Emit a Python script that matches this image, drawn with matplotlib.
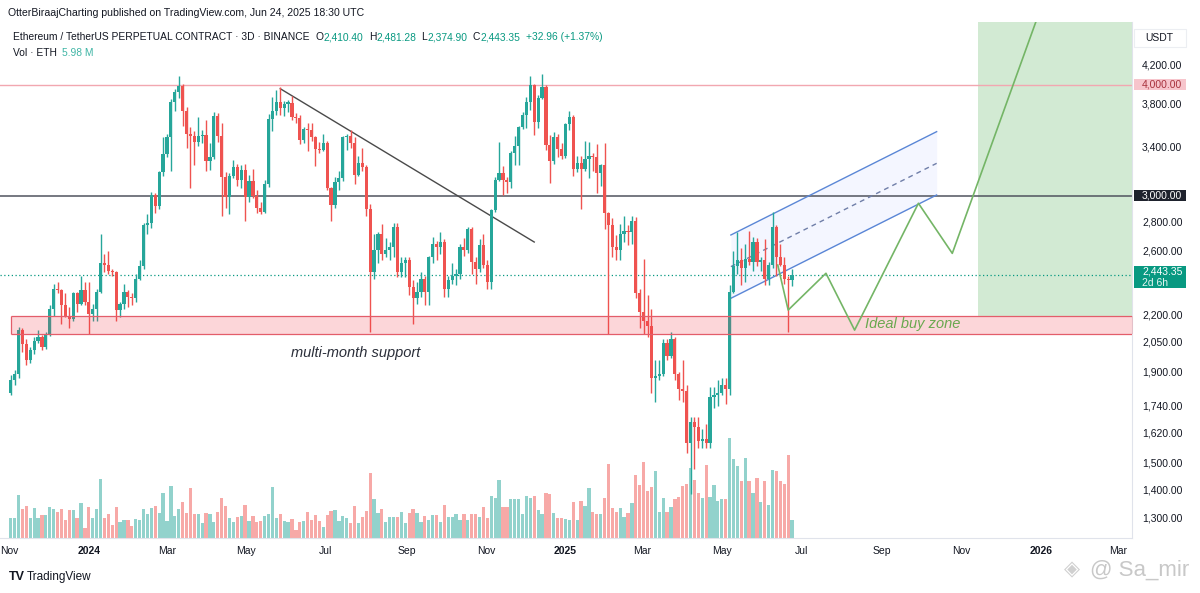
import numpy as np
import pandas as pd
import matplotlib
matplotlib.use("Agg")
import matplotlib.pyplot as plt
import matplotlib.dates as mdates
from matplotlib.patches import Rectangle
from matplotlib.ticker import NullLocator

plt.rcParams['font.family'] = ['Liberation Sans', 'DejaVu Sans']

# ---------------- data ----------------
first_date = "2023-11-02"        # first 3D candle open
first_open = 1800
closes = [1860, 1890, 2120, 2045, 1960, 2010, 2060, 2080, 2030, 2090,
          2240, 2360, 2350, 2260, 2200, 2180, 2330, 2270, 2350, 2280,
          2210, 2240, 2340, 2520, 2510, 2470, 2460, 2230, 2270, 2340,
          2310, 2300, 2420, 2500, 2780, 2800, 3010, 2920, 3190, 3340,
          3490, 3830, 3930, 3990, 3740, 3520, 3500, 3450, 3500, 3510,
          3280, 3320, 3690, 3500, 3150, 2990, 3160, 3230, 3130, 3210,
          2990, 3120, 3000, 2910, 2880, 3090, 3660, 3740, 3830, 3770,
          3810, 3820, 3680, 3670, 3470, 3570, 3560, 3490, 3390, 3380,
          3440, 3060, 2930, 3110, 3140, 3490, 3500, 3440, 3170, 3270,
          3230, 2900, 2460, 2610, 2720, 2580, 2610, 2630, 2770, 2460,
          2520, 2540, 2370, 2300, 2340, 2420, 2340, 2560, 2650, 2630,
          2660, 2360, 2410, 2440, 2450, 2630, 2610, 2750, 2530, 2480,
          2640, 2510, 2400, 2890, 3130, 3180, 3130, 3110, 3350, 3410,
          3590, 3700, 3830, 4000, 3630, 3870, 3980, 3420, 3280, 3490,
          3390, 3330, 3610, 3680, 3220, 3270, 3220, 3300, 3330, 3320,
          3180, 3250, 2870, 2780, 2630, 2610, 2720, 2740, 2730, 2810,
          2330, 2220, 2170, 2140, 1870, 1880, 1890, 2050, 1980, 2070,
          1890, 1820, 1810, 1580, 1670, 1650, 1590, 1600, 1580, 1780,
          1790, 1800, 1840, 1820, 2340, 2500, 2540, 2490, 2550, 2530,
          2660, 2530, 2540, 2420, 2510, 2770, 2560, 2510, 2420, 2410,
          2443.35]
highs = [1885, 1910, 2135, 2130, 2070, 2030, 2080, 2120, 2090, 2110,
         2260, 2390, 2400, 2360, 2330, 2250, 2340, 2340, 2440, 2400,
         2400, 2270, 2360, 2715, 2580, 2600, 2480, 2470, 2280, 2390,
         2350, 2330, 2450, 2540, 2800, 2860, 3030, 3020, 3200, 3490,
         3520, 3860, 3960, 4090, 4010, 3780, 3590, 3550, 3680, 3560,
         3650, 3440, 3730, 3720, 3620, 3190, 3180, 3290, 3260, 3250,
         3260, 3170, 3220, 3050, 2950, 3130, 3710, 3880, 3950, 3975,
         3840, 3850, 3890, 3720, 3700, 3590, 3620, 3620, 3500, 3450,
         3520, 3460, 3070, 3150, 3200, 3500, 3520, 3560, 3490, 3330,
         3400, 3250, 2940, 2720, 2730, 2790, 2690, 2660, 2800, 2800,
         2560, 2560, 2560, 2410, 2400, 2460, 2440, 2570, 2700, 2670,
         2730, 2680, 2440, 2520, 2480, 2650, 2690, 2770, 2770, 2560,
         2680, 2720, 2540, 2900, 3150, 3450, 3240, 3150, 3370, 3500,
         3600, 3730, 3880, 4090, 4010, 3900, 4110, 4000, 3510, 3540,
         3520, 3440, 3620, 3740, 3700, 3330, 3330, 3460, 3450, 3350,
         3430, 3260, 3440, 2880, 2830, 2710, 2790, 2850, 2780, 2850,
         2840, 2360, 2550, 2320, 2240, 1960, 1960, 2070, 2070, 2110,
         2080, 1900, 1960, 1840, 1690, 1690, 1690, 1640, 1660, 1830,
         1830, 1860, 1870, 1870, 2380, 2600, 2730, 2620, 2650, 2740,
         2700, 2690, 2560, 2680, 2530, 2880, 2780, 2650, 2560, 2440,
         2481.28]
lows = [1790, 1840, 1870, 2000, 1935, 1945, 1990, 2050, 2010, 2020,
        2085, 2200, 2330, 2150, 2190, 2130, 2170, 2220, 2260, 2260,
        2100, 2170, 2170, 2330, 2460, 2450, 2440, 2170, 2190, 2240,
        2250, 2260, 2280, 2410, 2480, 2720, 2760, 2870, 2900, 3160,
        3320, 3200, 3740, 3870, 3600, 3400, 3060, 3250, 3410, 3440,
        3200, 3210, 3300, 3450, 2850, 2910, 2860, 3140, 3080, 3060,
        2810, 2950, 2980, 2870, 2860, 2870, 3070, 3550, 3700, 3700,
        3690, 3730, 3650, 3620, 3430, 3440, 3370, 3460, 3240, 3350,
        3370, 3050, 2810, 2910, 3050, 3120, 3380, 3400, 3090, 3160,
        3200, 2850, 2110, 2420, 2520, 2540, 2560, 2540, 2560, 2430,
        2430, 2430, 2320, 2150, 2270, 2310, 2260, 2260, 2520, 2540,
        2580, 2310, 2310, 2390, 2380, 2420, 2570, 2590, 2450, 2390,
        2460, 2490, 2360, 2360, 2880, 3120, 3010, 3020, 3060, 3250,
        3250, 3570, 3580, 3750, 3510, 3580, 3860, 3380, 3100, 3260,
        3320, 3300, 3310, 3560, 3160, 3190, 2900, 3200, 3140, 3200,
        3020, 3080, 2750, 2100, 2560, 2540, 2540, 2660, 2640, 2650,
        2300, 2130, 2100, 2080, 1800, 1760, 1860, 1880, 1960, 1970,
        1860, 1770, 1760, 1540, 1385, 1480, 1560, 1560, 1560, 1560,
        1730, 1740, 1790, 1750, 1790, 2330, 2450, 2380, 2400, 2510,
        2470, 2500, 2470, 2380, 2380, 2490, 2440, 2500, 2390, 2110,
        2374.90]
volume_m = [6.0, 6.0, 12.8, 8.5, 9.5, 6.0, 8.8, 6.0, 6.8,
            6.7, 9.0, 8.5, 7.8, 8.5, 5.4, 8.2, 8.2, 6.0, 10.3,
            3.0, 9.0, 5.8, 8.4, 17.3, 5.8, 7.0, 3.8, 9.2, 4.8,
            5.4, 5.4, 3.5, 5.6, 5.4, 8.5, 7.0, 8.8, 9.4, 7.4,
            13.2, 5.0, 15.4, 6.6, 8.4, 10.5, 7.4, 14.8, 7.0, 7.0,
            4.4, 7.4, 7.0, 4.8, 7.8, 11.8, 9.4, 6.0, 4.7, 6.2,
            6.4, 9.7, 5.0, 6.4, 4.8, 5.0, 6.4, 7.2, 15.0, 6.0,
            7.2, 5.0, 4.8, 5.6, 2.5, 4.7, 5.0, 7.8, 5.2, 6.8,
            5.0, 3.2, 6.7, 8.0, 8.2, 5.0, 6.4, 6.0, 4.4, 9.4,
            4.5, 6.2, 8.0, 19.3, 11.6, 7.3, 8.4, 4.6, 6.2, 6.2,
            6.2, 7.8, 4.5, 7.4, 8.4, 7.4, 4.6, 6.4, 5.2, 6.8,
            6.7, 4.6, 9.7, 6.2, 6.2, 7.0, 5.4, 7.2, 5.4, 7.2,
            7.0, 6.3, 9.2, 6.0, 12.5, 11.7, 17.0, 9.2, 9.2, 11.6,
            11.6, 11.4, 7.0, 12.5, 11.8, 12.5, 8.3, 7.2, 13.3, 13.0,
            7.4, 6.0, 5.8, 5.5, 5.2, 10.5, 5.3, 10.8, 9.5, 14.7,
            7.8, 7.2, 7.2, 11.8, 21.8, 8.8, 7.8, 8.8, 6.2, 7.4,
            10.4, 18.5, 15.5, 22.5, 13.8, 15.0, 19.7, 7.8, 11.7, 7.8,
            9.2, 11.4, 12.2, 15.2, 16.0, 20.5, 17.0, 13.2, 11.7, 21.4,
            12.2, 15.5, 11.0, 11.5, 11.5, 29.5, 23.3, 21.3, 16.7, 23.5,
            16.7, 13.2, 17.6, 10.6, 16.8, 9.7, 20.0, 19.8, 16.7, 16.0,
            24.6, 5.4]

level_4000 = 4000
level_3000 = 3000
last_price = 2443.35
support_low, support_high = 2100, 2200
support_start = "2023-11-02"

trend_dates = ["2024-05-27", "2024-12-08"]
trend_prices = [3960, 2662]

channel_dates = ["2025-05-08", "2025-10-13"]
channel_lower = [2301, 3007]
channel_upper = [2711, 3543]

path_dates = ["2025-06-13", "2025-06-21", "2025-07-20", "2025-08-11",
              "2025-09-29", "2025-10-25", "2026-01-01"]
path_prices = [2508, 2232, 2455, 2119, 2943, 2585, 4880]

target_start = "2025-11-14"
target_low = 2200

price_ticks = [4200, 3800, 3400, 2800, 2600, 2200, 2050, 1900, 1740,
               1620, 1500, 1400, 1300]
time_ticks = ["2023-11-01", "2024-01-01", "2024-03-01", "2024-05-01",
              "2024-07-01", "2024-09-01", "2024-11-01", "2025-01-01",
              "2025-03-01", "2025-05-01", "2025-07-01", "2025-09-01",
              "2025-11-01", "2026-01-01", "2026-03-01"]
time_labels = ["Nov", "2024", "Mar", "May", "Jul", "Sep", "Nov", "2025",
               "Mar", "May", "Jul", "Sep", "Nov", "2026", "Mar"]

# ---------------- figure ----------------
W, H = 1200, 593
fig = plt.figure(figsize=(W / 100, H / 100), dpi=100)
fig.patch.set_facecolor("white")

ax_left, ax_right, ax_top, ax_bot = 0, 1132, 22, 538
rect = [ax_left / W, (H - ax_bot) / H, (ax_right - ax_left) / W, (ax_bot - ax_top) / H]
ax_vol = fig.add_axes(rect)
ax = fig.add_axes(rect)
ax.patch.set_alpha(0)

xlim = (mdates.date2num(pd.Timestamp("2023-10-24 19:00")),
        mdates.date2num(pd.Timestamp("2026-03-12")))
ylim = (1236.6, 4707)

GREEN = "#26a69a"
RED = "#ef5350"
TEAL = "#089981"

n = len(closes)
dates = pd.date_range(first_date, periods=n, freq="3D")
x = mdates.date2num(dates)
opens = [first_open] + closes[:-1]
o = np.array(opens, float)
c = np.array(closes, float)
hi = np.array(highs, float)
lo = np.array(lows, float)
up = c >= o
cols = np.where(up, GREEN, RED)

# volume
vcols = np.where(up, "#92d2cc", "#f7a9a7")
ax_vol.bar(x, volume_m, width=2.5, color=vcols, linewidth=0)
ax_vol.set_xlim(*xlim)
ax_vol.set_ylim(0, max(volume_m) / 0.194)
ax_vol.axis("off")

# main price axes
ax.set_yscale("log")
ax.set_xlim(*xlim)
ax.set_ylim(*ylim)
ax.yaxis.set_major_locator(NullLocator())
ax.yaxis.set_minor_locator(NullLocator())
for s in ["top", "left"]:
    ax.spines[s].set_visible(False)
for s in ["bottom", "right"]:
    ax.spines[s].set_color("#e0e3eb")
    ax.spines[s].set_linewidth(0.8)

# green target box
tx0 = mdates.date2num(pd.Timestamp(target_start))
ax.fill_between([tx0, xlim[1] + 50], target_low, 20000, color="#4caf50",
                alpha=0.25, linewidth=0, zorder=1)

# horizontal levels
ax.axhline(level_4000, color="#f2a7b0", lw=1.0, zorder=2)
ax.axhline(level_3000, color="#50535e", lw=1.1, zorder=2)
ax.axhline(last_price, color=TEAL, lw=0.9, ls=(0, (1, 2)), zorder=2)

# channel
cx = mdates.date2num(pd.to_datetime(channel_dates))
cl = np.array(channel_lower, float)
cu = np.array(channel_upper, float)
cm = np.sqrt(cl * cu)
ax.fill_between(cx, cl, cu, color="#2962ff", alpha=0.05, linewidth=0, zorder=1.5)
ax.plot(cx, cm, color="#6f7ea8", lw=1.0, ls=(0, (3.5, 3)), zorder=2.5)
ax.plot(cx, cl, color="#5a86d6", lw=1.0, zorder=3)
ax.plot(cx, cu, color="#5a86d6", lw=1.0, zorder=3)

# trendline
trx = mdates.date2num(pd.to_datetime(trend_dates))
ax.plot(trx, trend_prices, color="#4a4a4a", lw=1.0, zorder=3)

# candles
ax.vlines(x, lo, hi, colors=cols, lw=1.0, zorder=4)
body_lo = np.minimum(o, c)
body_h = np.maximum(np.abs(c - o), c * 0.003)
ax.bar(x, body_h, bottom=body_lo, width=2.45, color=cols, linewidth=0, zorder=4.5)

# support zone (drawn above candles, translucent)
sx0 = mdates.date2num(pd.Timestamp(support_start))
ax.fill_between([sx0, xlim[1] + 50], support_low, support_high, color="#f23645",
                alpha=0.2, linewidth=0, zorder=5)
ax.hlines([support_low, support_high], sx0, xlim[1] + 50, color="#e35d6a", lw=0.9, zorder=5)
ax.vlines(sx0, support_low, support_high, color="#e35d6a", lw=0.9, zorder=5)

# projected path
px = mdates.date2num(pd.to_datetime(path_dates))
ax.plot(px, path_prices, color="#74b566", lw=1.2, zorder=6)

# text labels on chart
ax.text(mdates.date2num(pd.Timestamp("2024-06-04")), 1997, "multi-month support",
        fontsize=10.5, style="italic", color="#2a2e39", ha="left", va="center", zorder=7)
ax.text(mdates.date2num(pd.Timestamp("2025-08-19")), 2153, "Ideal buy zone",
        fontsize=10.5, style="italic", color="#6aa84f", ha="left", va="center", zorder=7)

# time axis
ax.set_xticks(mdates.date2num(pd.to_datetime(time_ticks)))
ax.set_xticklabels(time_labels)
ax.tick_params(axis="x", length=0, pad=6, labelsize=7.5, colors="#131722")
for lab in ax.get_xticklabels():
    if lab.get_text().isdigit():
        lab.set_fontweight("bold")


# ---------------- price scale (manual) ----------------
def ypx(p):
    return ax.transData.transform((xlim[0], p))[1]


LX = 1142
for p in price_ticks:
    fig.text(LX / W, ypx(p) / H, f"{p:,.2f}", fontsize=7.5, color="#131722",
             ha="left", va="center")


def box(p, dy_top, dy_bot, fc):
    yc = ypx(p)
    fig.patches.append(Rectangle((1134 / W, (yc - dy_bot) / H), 52 / W,
                                 (dy_top + dy_bot) / H, transform=fig.transFigure,
                                 facecolor=fc, edgecolor="none", zorder=3))


box(level_4000, 5.5, 5.5, "#f7c5cc")
fig.text(LX / W, ypx(level_4000) / H, f"{level_4000:,.2f}", fontsize=7.5,
         color="#a8323e", ha="left", va="center", zorder=4)
box(level_3000, 5.5, 5.5, "#1e222d")
fig.text(LX / W, ypx(level_3000) / H, f"{level_3000:,.2f}", fontsize=7.5,
         color="white", ha="left", va="center", zorder=4)
box(last_price, 9, 13, TEAL)
fig.text(LX / W, (ypx(last_price) + 3.5) / H, f"{last_price:,.2f}", fontsize=7.5,
         color="white", ha="left", va="center", zorder=4)
fig.text(LX / W, (ypx(last_price) - 7.5) / H, "2d 6h", fontsize=7.5,
         color="#e6f5f2", ha="left", va="center", zorder=4)

fig.patches.append(Rectangle((1134 / W, (H - 47) / H), 52 / W, 18 / H,
                             transform=fig.transFigure, facecolor="white",
                             edgecolor="#eceef2", lw=0.8, zorder=3))
fig.text(1145 / W, 1 - 38 / H, "USDT", fontsize=7.5, color="#131722",
         ha="left", va="center", zorder=4)

# ---------------- header legend ----------------
renderer = fig.canvas.get_renderer()
DARK = "#131722"


def chain(parts, x0, y_base, fs):
    xpos = x0
    for s, col, gap in parts:
        t = fig.text(xpos / W, 1 - y_base / H, s, fontsize=fs, color=col,
                     ha="left", va="baseline", zorder=8)
        bb = t.get_window_extent(renderer)
        xpos = bb.x1 + gap


chain([("OtterBiraajCharting published on TradingView.com, Jun 24, 2025 18:30 UTC", DARK, 0)],
      8, 16.5, 7.6)
chain([("Ethereum / TetherUS PERPETUAL CONTRACT · 3D · BINANCE", DARK, 6),
       ("O", DARK, 0.5), ("2,410.40", TEAL, 5),
       ("H", DARK, 0.5), ("2,481.28", TEAL, 5),
       ("L", DARK, 0.5), ("2,374.90", TEAL, 5),
       ("C", DARK, 0.5), ("2,443.35", TEAL, 5),
       ("+32.96 (+1.37%)", TEAL, 0)], 13, 40.5, 7.4)
chain([("Vol · ETH", DARK, 5), ("5.98 M", "#3fb5a5", 0)], 13, 55.5, 7.4)

# ---------------- footer ----------------
fig.text(9 / W, 1 - 577 / H, "TV", fontsize=9, fontweight="bold", color="#131722",
         ha="left", va="center")
fig.text(27 / W, 1 - 577 / H, "TradingView", fontsize=8.5, color="#131722",
         ha="left", va="center")
fig.text(1064 / W, 1 - 570 / H, "◈", fontsize=15, color="#d0d0d0",
         ha="left", va="center")
fig.text(1090 / W, 1 - 570 / H, "@ Sa_mir", fontsize=16, color="#c8c8c8",
         ha="left", va="center")

fig.savefig("out.png", dpi=100, facecolor="white")
